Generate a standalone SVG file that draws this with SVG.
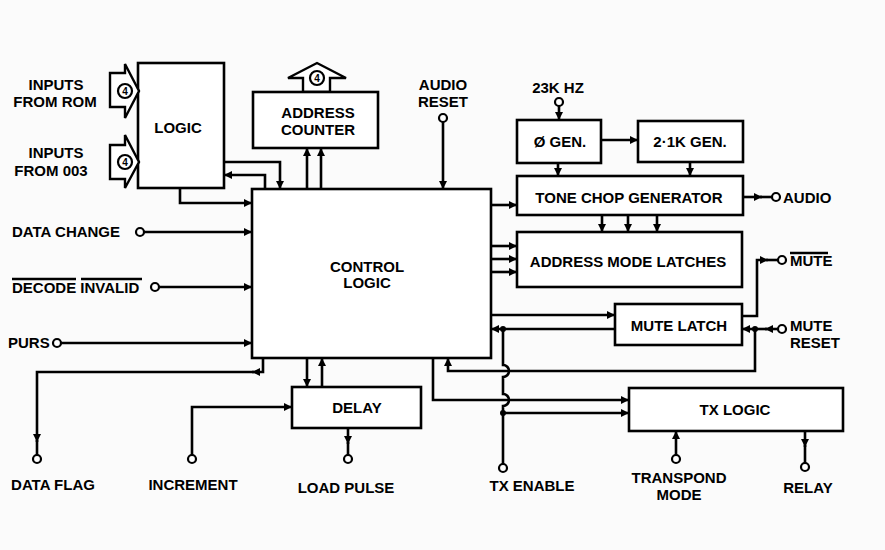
<svg xmlns="http://www.w3.org/2000/svg" width="885" height="550" viewBox="0 0 885 550">
<defs>
<marker id="ah" markerUnits="userSpaceOnUse" markerWidth="9" markerHeight="8" refX="8" refY="4" orient="auto"><path d="M0,0 L8,4 L0,8 z" fill="#000"/></marker>
<style>
.box{fill:#fff;stroke:#000;stroke-width:2.6}
.w{fill:none;stroke:#000;stroke-width:2.6}
.a{fill:none;stroke:#000;stroke-width:2.6;marker-end:url(#ah)}
.t{font-family:"Liberation Sans",Arial,sans-serif;font-weight:bold;font-size:15px;fill:#000;text-anchor:middle}
.l{text-anchor:start}
.term{fill:#fff;stroke:#000;stroke-width:2.2}
.dot{fill:#000}
.hol{fill:#fff;stroke:#000;stroke-width:2.4;stroke-linejoin:miter}
.num{font-family:"Liberation Sans",Arial,sans-serif;font-weight:bold;font-size:10px;fill:#000;text-anchor:middle}
</style>
</defs>
<rect width="885" height="550" fill="#fbfbfb"/>

<g id="logic">
<rect class="box" x="138" y="63" width="86" height="125"/>
<text class="t" x="178" y="133">LOGIC</text>
</g>
<g id="inputs-rom">
<polygon class="hol" points="110,73 125,73 125,64 139,91 125,118 125,107 110,107"/>
<circle cx="125" cy="91" r="7" fill="#fff" stroke="#000" stroke-width="2.2"/>
<text class="num" x="125" y="95">4</text>
<text class="t" x="56" y="90">INPUTS</text>
<text class="t" x="55" y="107">FROM ROM</text>
</g>
<g id="inputs-003">
<polygon class="hol" points="110,145 125,145 125,135 139,162 125,188 125,179 110,179"/>
<circle cx="125" cy="162" r="7" fill="#fff" stroke="#000" stroke-width="2.2"/>
<text class="num" x="125" y="166">4</text>
<text class="t" x="56" y="158">INPUTS</text>
<text class="t" x="51" y="176">FROM 003</text>
</g>
<g id="address-counter">
<polygon class="hol" points="303,92 303,78 288,78 317,63 346,78 330,78 330,92"/>
<circle cx="317" cy="78" r="7" fill="#fff" stroke="#000" stroke-width="2.2"/>
<text class="num" x="317" y="82">4</text>
<rect class="box" x="253" y="92" width="125" height="56"/>
<text class="t" x="318" y="118">ADDRESS</text>
<text class="t" x="318" y="135">COUNTER</text>
</g>
<g id="control-logic">
<rect class="box" x="252" y="189" width="239" height="169"/>
<text class="t" x="367" y="272">CONTROL</text>
<text class="t" x="367" y="288">LOGIC</text>
</g>
<g id="phi-gen">
<rect class="box" x="517" y="120" width="84" height="43"/>
<text class="t" x="560" y="147">Ø GEN.</text>
</g>
<g id="gen-21k">
<rect class="box" x="638" y="121" width="105" height="41"/>
<text class="t" x="690" y="147">2·1K GEN.</text>
</g>
<g id="tone-chop">
<rect class="box" x="517" y="176" width="226" height="39"/>
<text class="t" x="629" y="203">TONE CHOP GENERATOR</text>
</g>
<g id="address-mode-latches">
<rect class="box" x="517" y="232" width="225" height="55"/>
<text class="t" x="628" y="267">ADDRESS MODE LATCHES</text>
</g>
<g id="mute-latch">
<rect class="box" x="615" y="304" width="127" height="41"/>
<text class="t" x="679" y="331">MUTE LATCH</text>
</g>
<g id="delay">
<rect class="box" x="292" y="387" width="129" height="41"/>
<text class="t" x="357" y="413">DELAY</text>
</g>
<g id="tx-logic">
<rect class="box" x="629" y="388" width="214" height="43"/>
<text class="t" x="735" y="415">TX LOGIC</text>
</g>

<g id="labels">
<text class="t" x="443" y="90">AUDIO</text>
<text class="t" x="443" y="107">RESET</text>
<text class="t" x="558" y="93">23K HZ</text>
<text class="t l" x="783" y="203">AUDIO</text>
<text class="t l" x="790" y="266">MUTE</text>
<line class="w" x1="790" y1="253" x2="828" y2="253" stroke-width="1.8"/>
<text class="t l" x="790" y="331">MUTE</text>
<text class="t l" x="790" y="348">RESET</text>
<text class="t l" x="12" y="237">DATA CHANGE</text>
<text class="t l" x="12" y="293">DECODE INVALID</text>
<line class="w" x1="12" y1="279" x2="76" y2="279" stroke-width="1.8"/>
<line class="w" x1="81" y1="279" x2="142" y2="279" stroke-width="1.8"/>
<text class="t l" x="8" y="348">PURS</text>
<text class="t" x="53" y="490">DATA FLAG</text>
<text class="t" x="193" y="490">INCREMENT</text>
<text class="t" x="346" y="493">LOAD  PULSE</text>
<text class="t" x="532" y="491">TX ENABLE</text>
<text class="t" x="679" y="483">TRANSPOND</text>
<text class="t" x="679" y="500">MODE</text>
<text class="t" x="808" y="493">RELAY</text>
</g>

<g id="connectors">
<path class="a" d="M224,162 H280 V189"/>
<path class="a" d="M265,189 V175 H224"/>
<path class="a" d="M180,188 V203 H252"/>
<path class="a" d="M307,189 V148"/>
<path class="a" d="M321,189 V148"/>
<path class="a" d="M144,232 H252"/>
<path class="a" d="M159,287 H252"/>
<path class="a" d="M61,343 H252"/>
<path class="a" d="M443,122 V189"/>
<path class="a" d="M263,358 V372 H252"/>
<path class="a" d="M254,372 H37 V442"/>
<line class="w" x1="37" y1="440" x2="37" y2="455"/>
<path class="a" d="M307,358 V387"/>
<path class="a" d="M322,387 V358"/>
<path class="a" d="M192,455 V407 H292"/>
<path class="a" d="M348,428 V444"/>
<line class="w" x1="348" y1="442" x2="348" y2="455"/>
<path class="a" d="M559,106 V120"/>
<path class="a" d="M601,140 H638"/>
<path class="a" d="M558,163 V176"/>
<path class="a" d="M690,162 V176"/>
<path class="a" d="M491,205 H517"/>
<path class="a" d="M602,215 V232"/>
<path class="a" d="M628,215 V232"/>
<path class="a" d="M657,215 V232"/>
<path class="a" d="M491,246 H517"/>
<path class="a" d="M491,259 H517"/>
<path class="a" d="M491,272 H517"/>
<path class="a" d="M743,197 H762"/>
<line class="w" x1="760" y1="197" x2="772" y2="197"/>
<path class="a" d="M742,316 H757 V260 H768"/>
<line class="w" x1="766" y1="260" x2="778" y2="260"/>
<path class="a" d="M778,329 H765"/>
<path class="a" d="M767,329 H742"/>
<path class="a" d="M755,329 V371 H448 V358"/>
<path class="a" d="M491,315 H615"/>
<path class="a" d="M615,329 H491"/>
<path class="w" d="M503,329 V365 A6,6 0 0 1 503,377 V394 A6,6 0 0 1 503,406 V464"/>
<path class="a" d="M433,358 V400 H629"/>
<path class="a" d="M503,413 H629"/>
<path class="a" d="M676,455 V431"/>
<path class="a" d="M805,431 V447"/>
<line class="w" x1="805" y1="445" x2="805" y2="463"/>
<circle class="dot" cx="503" cy="329" r="3"/>
<circle class="dot" cx="503" cy="413" r="3"/>
<circle class="dot" cx="755" cy="329" r="3"/>
<circle class="term" cx="443" cy="118" r="4"/>
<circle class="term" cx="559" cy="102" r="4"/>
<circle class="term" cx="776" cy="197" r="4"/>
<circle class="term" cx="782" cy="260" r="4"/>
<circle class="term" cx="782" cy="329" r="4"/>
<circle class="term" cx="140" cy="232" r="4"/>
<circle class="term" cx="155" cy="287" r="4"/>
<circle class="term" cx="57" cy="343" r="4"/>
<circle class="term" cx="37" cy="459" r="4"/>
<circle class="term" cx="192" cy="459" r="4"/>
<circle class="term" cx="348" cy="459" r="4"/>
<circle class="term" cx="503" cy="468" r="4"/>
<circle class="term" cx="676" cy="459" r="4"/>
<circle class="term" cx="805" cy="467" r="4"/>
</g>
</svg>
